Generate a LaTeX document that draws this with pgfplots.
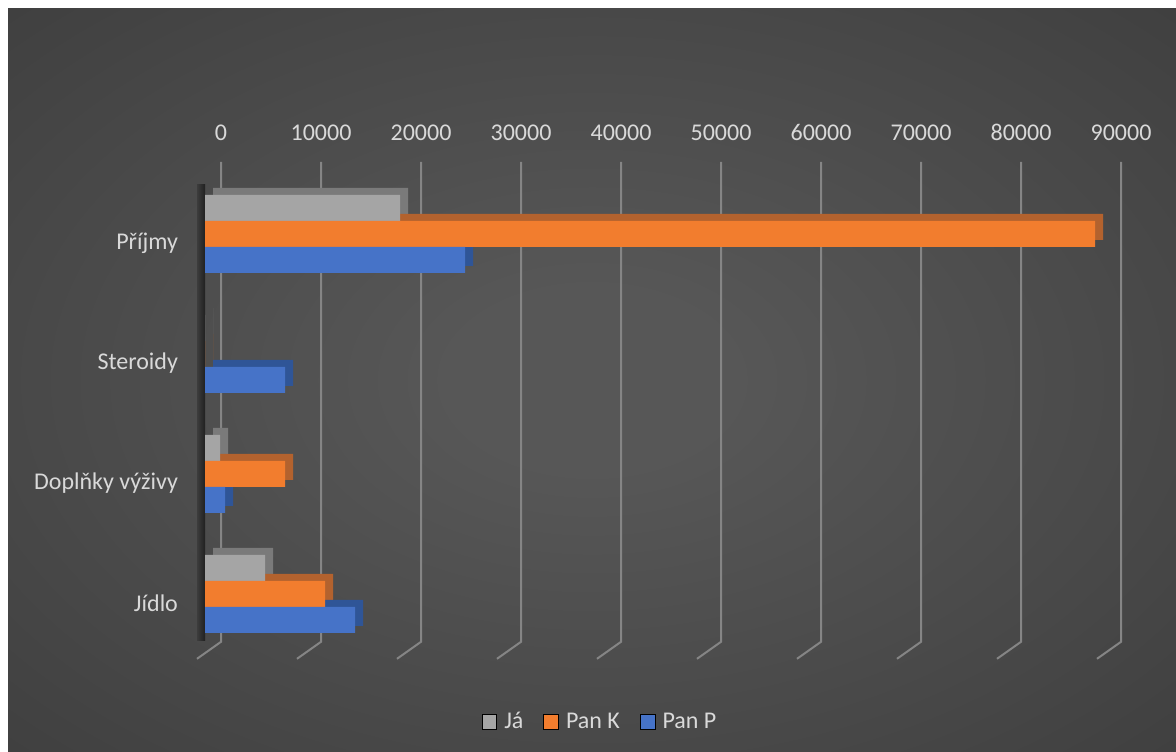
\documentclass[border=0pt]{standalone}
\usepackage{fontspec}
\setmainfont{Carlito}
\usepackage{pgfplots}
\pgfplotsset{compat=1.18}
\definecolor{bgOut}{HTML}{2B2B2B}
\definecolor{bgIn}{HTML}{575757}
\definecolor{cText}{HTML}{D9D9D9}
\definecolor{cGrid}{HTML}{858585}
\definecolor{cGray}{HTML}{A5A5A5}
\definecolor{cGrayD}{HTML}{7A7A7A}
\definecolor{cOrange}{HTML}{F27D2E}
\definecolor{cOrangeD}{HTML}{B3622E}
\definecolor{cBlue}{HTML}{4673C8}
\definecolor{cBlueD}{HTML}{2F5597}
\definecolor{cWallL}{HTML}{3C3C3C}
\definecolor{cWallR}{HTML}{202020}
\pgfdeclareradialshading{bgshade}{\pgfpoint{0bp}{0bp}}{color(0bp)=(bgIn); color(6bp)=(bgIn); color(62bp)=(bgOut); color(80bp)=(bgOut)}
\pgfplotstableread{
cat ja pank panp
0 6000 12000 15000
1 1500 8000 2000
2 0 0 8000
3 19500 89000 26000
}\datatable
\begin{document}
\begin{tikzpicture}[x=0.5pt,y=0.5pt]
\fill[white] (0,0) rectangle (1176,751);
\shade[shading=bgshade] (8,0) rectangle (1176,742);
\shade[left color=cWallL, right color=cWallR] (197,111) rectangle (205,566);
\begin{axis}[
  at={(205,81)}, anchor=south west,
  scale only axis, width=450pt, height=240pt,
  xmin=0, xmax=90000, ymin=-0.5, ymax=3.5,
  clip=false,
  xbar, bar width=13pt,
  axis line style={draw=none},
  major tick length=0pt,
  xticklabel pos=upper,
  xtick={0,10000,...,90000},
  scaled x ticks=false,
  /pgf/number format/1000 sep={},
  /pgf/number format/assume math mode=true,
  xticklabel style={xshift=8pt, yshift=13pt, text=cText, font=\fontsize{12}{14}\selectfont},
  ytick={0,1,2,3},
  yticklabels={Jídlo, Doplňky výživy, Steroidy, Příjmy},
  yticklabel style={xshift=-10pt, yshift=-4.5pt, text=cText, font=\fontsize{12}{14}\selectfont},
  legend image code/.code={\fill[#1] (0pt,-3.7pt) rectangle (7.4pt,3.7pt);},
  legend style={draw=none, fill=none, text=cText, font=\fontsize{12}{14}\selectfont,
    at={(0.44,-0.1417)}, anchor=center, legend columns=-1,
    /tikz/every odd column/.append style={column sep=1.5pt},
    /tikz/every even column/.append style={column sep=8pt}},
]
\pgfplotsinvokeforeach{0,10000,20000,30000,40000,50000,60000,70000,80000,90000}{
  \draw[cGrid, line width=1pt] ([shift={(8pt,6pt)}]axis cs:#1,3.5) -- ([shift={(8pt,6pt)}]axis cs:#1,-0.5) -- ([shift={(-4pt,-2.5pt)}]axis cs:#1,-0.5);
}
% depth faces
\addplot[bar shift=13pt, fill=cGrayD, draw=none, xshift=4pt, yshift=3.5pt, forget plot] table[x=ja, y=cat] {\datatable};
\addplot[bar shift=0pt, fill=cOrangeD, draw=none, xshift=4pt, yshift=3.5pt, forget plot] table[x=pank, y=cat] {\datatable};
\addplot[bar shift=-13pt, fill=cBlueD, draw=none, xshift=4pt, yshift=3.5pt, forget plot] table[x=panp, y=cat] {\datatable};
% front faces
\addplot[bar shift=13pt, fill=cGray, draw=none, forget plot] table[x=ja, y=cat] {\datatable};
\addplot[bar shift=0pt, fill=cOrange, draw=none, forget plot] table[x=pank, y=cat] {\datatable};
\addplot[bar shift=-13pt, fill=cBlue, draw=none, forget plot] table[x=panp, y=cat] {\datatable};
\addlegendimage{fill=cGray}
\addlegendentry{Já}
\addlegendimage{fill=cOrange}
\addlegendentry{Pan K}
\addlegendimage{fill=cBlue}
\addlegendentry{Pan P}
\end{axis}
\pgfresetboundingbox
\path[use as bounding box] (0,0) rectangle (1176,751);
\end{tikzpicture}
\end{document}
